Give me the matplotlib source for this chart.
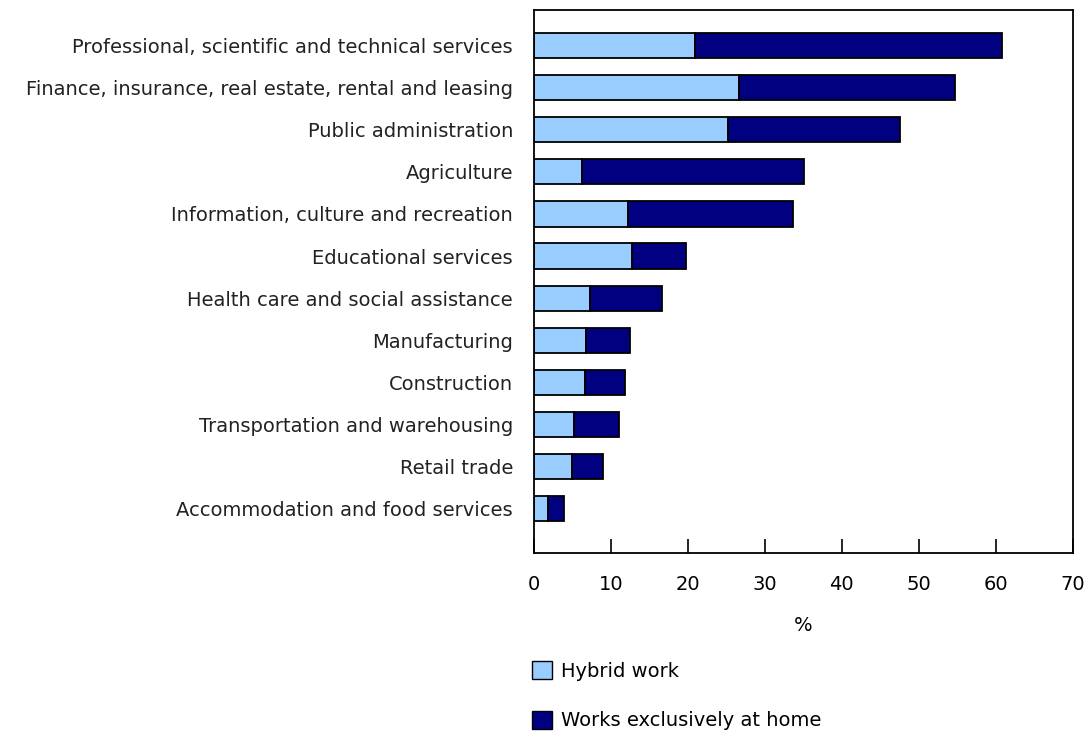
import matplotlib
matplotlib.use('Agg')
import matplotlib.pyplot as plt
from matplotlib.patches import Patch

industries = [
    'Professional, scientific and technical services',
    'Finance, insurance, real estate, rental and leasing',
    'Public administration',
    'Agriculture',
    'Information, culture and recreation',
    'Educational services',
    'Health care and social assistance',
    'Manufacturing',
    'Construction',
    'Transportation and warehousing',
    'Retail trade',
    'Accommodation and food services',
]
hybrid = [21.0, 26.6, 25.2, 6.3, 12.2, 12.8, 7.3, 6.8, 6.7, 5.2, 5.0, 1.9]
total = [60.8, 54.7, 47.5, 35.1, 33.6, 19.8, 16.7, 12.5, 11.9, 11.1, 9.0, 3.9]
home = [round(t - h, 1) for t, h in zip(total, hybrid)]
xticks = [0, 10, 20, 30, 40, 50, 60, 70]

light = '#99ccff'
dark = '#000080'
fs = 14

plt.rcParams['font.family'] = ['DejaVu Sans']
fig = plt.figure(figsize=(10.87, 7.32), dpi=100)
ax = fig.add_axes([0.491, 0.245, 0.496, 0.742])

pos = list(range(len(industries)))
ax.barh(pos, hybrid, height=0.6, color=light, edgecolor='black', linewidth=1.3)
ax.barh(pos, home, left=hybrid, height=0.6, color=dark, edgecolor='black', linewidth=1.3)

ax.set_ylim(len(industries) - 1 + 1.04, -0.85)
ax.set_xlim(0, 70)
ax.set_xticks(xticks)
ax.set_yticks(pos)
ax.set_yticklabels(industries, fontsize=fs, color='#222222')
ax.tick_params(axis='y', length=0, pad=15)
ax.tick_params(axis='x', direction='in', length=10, width=1.2, labelsize=fs, pad=16)
for s in ax.spines.values():
    s.set_linewidth(1.3)
ax.set_xlabel('%', fontsize=fs, labelpad=16)

handles = [Patch(facecolor=light, edgecolor='black', label='Hybrid work'),
           Patch(facecolor=dark, edgecolor='black', label='Works exclusively at home')]
fig.legend(handles=handles, loc='upper left', bbox_to_anchor=(0.489, 0.097),
           frameon=False, fontsize=fs, handlelength=1.05, handleheight=1.05,
           handletextpad=0.45, labelspacing=1.55, borderaxespad=0, borderpad=0)

fig.savefig('out.png', dpi=100)
